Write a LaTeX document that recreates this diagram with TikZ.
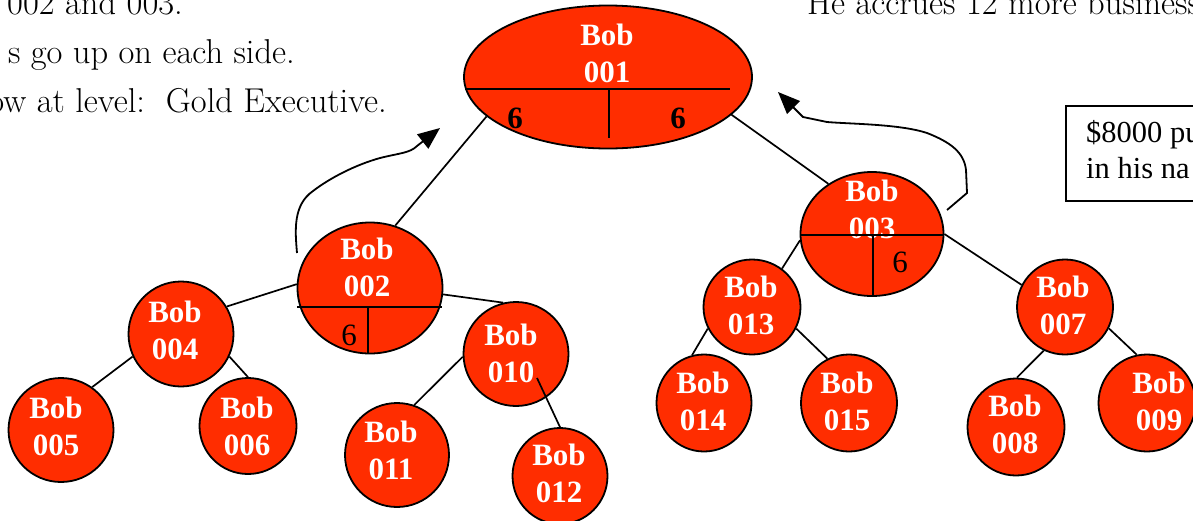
\documentclass[tikz,border=0pt]{standalone}
\usepackage{fontspec}
\setmainfont{Liberation Serif}
\newfontfamily\handfont{Latin Modern Roman}
\usetikzlibrary{shapes.geometric,arrows.meta}
\definecolor{bobred}{HTML}{FF2D00}
\tikzset{
  bob/.style={ellipse, draw=black, line width=1.8pt, fill=bobred, inner sep=0pt},
  bobtext/.style={text=white, font=\fontsize{31}{37}\selectfont\bfseries, align=center, inner sep=0pt},
  edge/.style={line width=1.7pt},
  part/.style={line width=1.8pt},
  num/.style={font=\fontsize{31}{36}\selectfont, inner sep=0pt, anchor=base},
  bnum/.style={font=\fontsize{31}{36}\selectfont\bfseries, inner sep=0pt, anchor=base},
  hand/.style={font=\handfont\fontsize{34.5}{40}\selectfont, inner sep=0pt},
  boxtxt/.style={font=\fontsize{30.5}{35}\selectfont, inner sep=0pt, anchor=base west},
  curvy/.style={line width=1.8pt, -{Triangle[length=22pt,width=18pt]}},
}
\begin{document}
\begin{tikzpicture}[x=1pt,y=-1pt]
\useasboundingbox (0,0) rectangle (1193,520);
\clip (0,0) rectangle (1193,520);
\fill[white] (0,0) rectangle (1193,520);

% handwritten texts
\node[hand, anchor=base east] (h1) at (183,14) {002 and 003.};
\node[hand, anchor=base east] (h2) at (295,63) {s go up on each side.};
\node[hand, anchor=base east] (h3) at (387,112) {ow at level:\ \ Gold Executive.};
\node[hand, anchor=base west] (h4) at (807,14) {He accrues 12 more business};

% box
\node[draw, line width=1.6pt, minimum width=220, minimum height=95, anchor=north west, inner sep=0pt] (box) at (1065,105) {};
\node[boxtxt] (b1) at (1086,142) {\$8000 pu};
\node[boxtxt] (b2) at (1086,178) {in his na};

% circles
\node[bob, minimum width=288, minimum height=143] (n001) at (608,77) {};
\node[bob, minimum width=145, minimum height=131] (n002) at (370,288) {};
\node[bob, minimum width=143, minimum height=124] (n003) at (872,234) {};
\node[bob, minimum width=105, minimum height=105] (n004) at (181,334) {};
\node[bob, minimum width=105, minimum height=104] (n005) at (61,430) {};
\node[bob, minimum width=97, minimum height=96] (n006) at (248,426) {};
\node[bob, minimum width=105, minimum height=104] (n010) at (516,354) {};
\node[bob, minimum width=104, minimum height=104] (n011) at (397,455) {};
\node[bob, minimum width=95, minimum height=96] (n012) at (560,476) {};
\node[bob, minimum width=97, minimum height=95] (n013) at (752,307) {};
\node[bob, minimum width=95, minimum height=97] (n014) at (704,403) {};
\node[bob, minimum width=96, minimum height=97] (n015) at (849,403) {};
\node[bob, minimum width=96, minimum height=95] (n007) at (1065,307) {};
\node[bob, minimum width=97, minimum height=97] (n008) at (1016,427) {};
\node[bob, minimum width=97, minimum height=97] (n009) at (1147,403) {};

% texts
\node[bobtext] (t001) at (607,53) {Bob\\001};
\node[bobtext] (t002) at (367,267) {Bob\\002};
\node[bobtext] (t003) at (872,209) {Bob\\003};
\node[bobtext] (t004) at (175,330) {Bob\\004};
\node[bobtext] (t005) at (56,426) {Bob\\005};
\node[bobtext] (t006) at (247,426) {Bob\\006};
\node[bobtext] (t010) at (511,353) {Bob\\010};
\node[bobtext] (t011) at (391,450) {Bob\\011};
\node[bobtext] (t012) at (559,473) {Bob\\012};
\node[bobtext] (t013) at (751,305) {Bob\\013};
\node[bobtext] (t014) at (703,401) {Bob\\014};
\node[bobtext] (t015) at (847,401) {Bob\\015};
\node[bobtext] (t007) at (1063,305) {Bob\\007};
\node[bobtext] (t008) at (1015,424) {Bob\\008};
\node[bobtext] (t009) at (1159,401) {Bob\\009};

% partitions
\draw[part] (465,89) -- (730,89) (609,89) -- (609,138);
\draw[part] (297,307) -- (442,307) (368,307) -- (368,354);
\draw[part] (801,235) -- (944,235) (873,235) -- (873,296);
\node[bnum] (s1) at (515,128) {6};
\node[bnum] (s2) at (678,128) {6};
\node[num] (s3) at (349,345) {6};
\node[num] (s4) at (900,272) {6};

% edges
\draw[edge] (n001.-162) -- (n002.68);
\draw[edge] (n001.-17) -- (n003.131);
\draw[edge] (n002.177) -- (n004.31);
\draw[edge] (n002.-5) -- (n010.104);
\draw[edge] (n004.-155) -- (n005.54);
\draw[edge] (n004.-25) -- (n006.90);
\draw[edge] (n010.183) -- (n011.71);
\draw[edge] ([shift={(21,24)}]n010.center) -- (n012.90);
\draw[edge] (n003.185) -- (n013.52);
\draw[edge] (n003.0) -- (n007.153);
\draw[edge] (n013.-154) -- (n014.104);
\draw[edge] (n013.-26) -- (n015.116);
\draw[edge] (n007.-116) -- (n008.89);
\draw[edge] (n007.-26) -- (n009.102);

% curvy arrows
\coordinate (tipL) at (440,128);
\coordinate (tipR) at (778,92);
\draw[curvy] ([shift={(-73,-35)}]n002.center) .. controls (295,230) and (293,205) .. (313,191)
  .. controls (330,178) and (355,165) .. (380,158)
  .. controls (400,153) and (410,153) .. (417,146) -- (tipL);
\draw[curvy] ([shift={(75,-24)}]n003.center) -- (967,193) -- (966,170)
  .. controls (964,152) and (950,142) .. (927,133)
  .. controls (900,124) and (850,124) .. (827,122) -- (803,117) -- (tipR);
\end{tikzpicture}
\end{document}
